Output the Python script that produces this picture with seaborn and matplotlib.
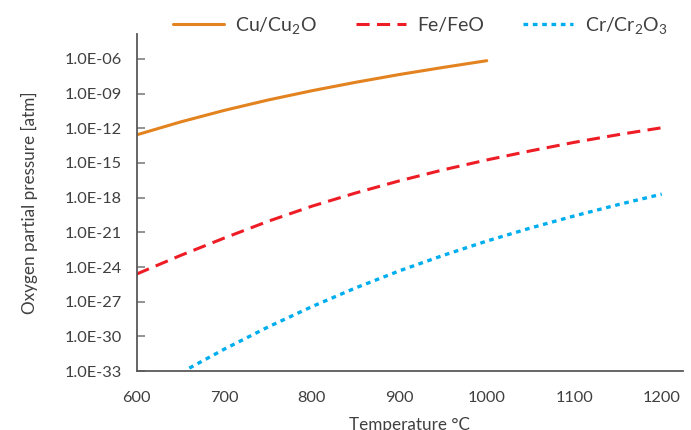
import numpy as np
import pandas as pd
import matplotlib
matplotlib.use("Agg")
import matplotlib.pyplot as plt
import seaborn as sns
from matplotlib.ticker import FuncFormatter

# temperatures (deg C) and oxygen partial pressures (atm)
temp_cu = [600, 650, 700, 750, 800, 850, 900, 950, 1000]
po2_cu = [2.7e-13, 3.5e-12, 3.5e-11, 2.75e-10, 1.74e-09, 9.3e-09, 4.4e-08, 1.8e-07, 6.9e-07]

temp_fe = [600, 650, 700, 750, 800, 850, 900, 950, 1000, 1050, 1100, 1150, 1200]
po2_fe = [2.5e-25, 1.0e-23, 3.2e-22, 8.9e-21, 1.8e-19, 2.5e-18, 2.8e-17, 2.5e-16,
          1.8e-15, 1.1e-14, 6.0e-14, 2.75e-13, 1.1e-12]

temp_cr = [660, 700, 750, 800, 850, 900, 950, 1000, 1050, 1100, 1150, 1200]
po2_cr = [1.8e-33, 7.9e-32, 6.5e-30, 3.7e-28, 1.55e-26, 4.6e-25, 1.0e-23, 1.75e-22,
          2.35e-21, 2.6e-20, 2.45e-19, 2.0e-18]

yticks = [1e-6, 1e-9, 1e-12, 1e-15, 1e-18, 1e-21, 1e-24, 1e-27, 1e-30, 1e-33]
xticks = [600, 700, 800, 900, 1000, 1100, 1200]

sns.set_theme(style="white")
plt.rcParams['font.family'] = ['Lato', 'DejaVu Sans']
plt.rcParams['mathtext.default'] = 'regular'
txt = '#404040'

fig = plt.figure(figsize=(6.91, 4.30), dpi=100)
ax = fig.add_axes([0.198, 0.137, 0.79, 0.784])

sns.lineplot(x=temp_cu, y=po2_cu, ax=ax, color='#E3831F', lw=2.2,
             label='Cu/Cu$_2$O', estimator=None)
sns.lineplot(x=temp_fe, y=po2_fe, ax=ax, color='#EE1C25', lw=2.2,
             linestyle=(0, (4.3, 2.4)), label='Fe/FeO', estimator=None)
sns.lineplot(x=temp_cr, y=po2_cr, ax=ax, color='#00AEEF', lw=2.4,
             linestyle=(0, (1.4, 1.4)), label='Cr/Cr$_2$O$_3$', estimator=None)

ax.set_yscale('log')
ax.set_ylim(1e-33, 10 ** -3.85)
ax.set_xlim(600, 1224)
ax.set_yticks(yticks)
ax.yaxis.set_major_formatter(FuncFormatter(lambda v, p: f"{v:.1E}"))
ax.minorticks_off()
ax.set_xticks(xticks)

for s in ['top', 'right']:
    ax.spines[s].set_visible(False)
for s in ['left', 'bottom']:
    ax.spines[s].set_color('#595959')
    ax.spines[s].set_linewidth(1.3)

ax.tick_params(axis='y', direction='in', length=6, width=1.2, color='#808080',
               labelsize=11.8, labelcolor=txt, pad=11, left=True)
ax.tick_params(axis='x', length=0, labelsize=11.8, labelcolor=txt, pad=14)

ax.set_xlabel('Temperature °C', fontsize=12.3, color=txt, labelpad=9)
ax.set_ylabel('Oxygen partial pressure [atm]', fontsize=12.3, color=txt, labelpad=19)

ax.get_legend().remove()
h, l = ax.get_legend_handles_labels()
fig.legend(h, l, ncol=3, loc='center', bbox_to_anchor=(0.608, 0.94),
           frameon=False, fontsize=14, handlelength=2.6, columnspacing=2.0,
           handletextpad=0.57, labelcolor=txt)

fig.savefig('out.png', dpi=100)
